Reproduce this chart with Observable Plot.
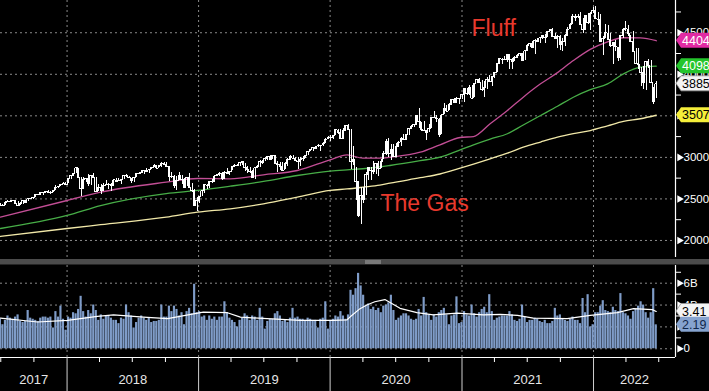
<!DOCTYPE html>
<html><head><meta charset="utf-8">
<script src="https://cdn.jsdelivr.net/npm/d3@7"></script>
<script src="https://cdn.jsdelivr.net/npm/@observablehq/plot@0.6"></script>
<style>
html,body{margin:0;padding:0;background:#000;}
#chart{position:relative;width:709px;height:391px;overflow:hidden;background:#000;}
#top{position:absolute;left:0;top:0;}
#bot{position:absolute;left:0;top:265px;}
</style></head><body><div id="chart"><div id="top"></div><div id="bot"></div></div>
<script>
// ---------- DATA ----------
const firstWeek = "2017-06-30"; // weekly bars, one per Friday
const closes = [
2423,2425,2459,2472,2472,2476,2441,2425,2443,2477,2461,2500,2502,2519,2549,2553,2575,2581,2588,2582,2579,2602,2642,2652,2676,2683,2674,
2743,2786,2810,2873,2762,2620,2732,2747,2691,2786,2752,2588,2641,2604,2656,2670,2670,2663,2728,2712,2721,2735,2779,2780,2755,2718,2760,2801,2802,2819,2840,2833,2850,2875,2902,2872,2905,2930,2914,2886,2767,2768,2658,2723,2781,2736,2633,2760,2633,2600,2417,2486,
2532,2596,2671,2665,2707,2708,2776,2793,2804,2743,2822,2801,2834,2893,2907,2905,2940,2946,2881,2860,2826,2752,2873,2887,2950,2942,2990,3014,2977,3026,2932,2919,2889,2847,2926,2979,3007,2992,2962,2952,2970,2986,3023,3067,3093,3120,3110,3141,3146,3169,3221,3240,
3235,3265,3330,3295,3226,3328,3380,3338,2954,2972,2711,2305,2541,2489,2790,2875,2837,2831,2930,2864,2955,3044,3194,3041,3098,3009,3130,3185,3225,3216,3271,3351,3373,3397,3508,3427,3341,3319,3298,3348,3477,3484,3465,3270,3510,3585,3558,3638,3699,3663,3709,3703,3756,
3825,3768,3841,3714,3887,3934,3907,3811,3842,3943,3913,3975,4020,4129,4185,4180,4181,4233,4174,4156,4204,4230,4247,4166,4281,4352,4370,4327,4412,4395,4437,4468,4442,4509,4535,4459,4433,4455,4357,4391,4471,4545,4605,4697,4683,4698,4595,4538,4712,4620,4726,4766,
4677,4663,4398,4432,4500,4419,4349,4385,4329,4204,4463,4543,4546,4488,4393,4272,4132,4123,4024,3901,4158,4109,3901,3675,3885];
const highs = [
2441,2433,2463,2478,2484,2480,2480,2468,2454,2481,2475,2500,2508,2519,2552,2557,2575,2582,2588,2597,2590,2605,2657,2654,2679,2695,2692,
2743,2787,2811,2873,2870,2763,2754,2747,2789,2786,2802,2753,2675,2672,2680,2717,2683,2682,2732,2742,2742,2736,2779,2791,2775,2746,2760,2802,2816,2848,2841,2863,2855,2876,2916,2900,2906,2941,2940,2940,2888,2817,2780,2766,2815,2782,2746,2761,2800,2686,2608,2520,
2533,2598,2675,2671,2708,2738,2776,2794,2813,2816,2831,2861,2836,2893,2911,2917,2940,2954,2932,2892,2876,2840,2876,2905,2964,2959,2996,3014,3017,3028,3027,2945,2941,2939,2940,2985,3021,3022,3002,2993,2993,3008,3027,3067,3098,3121,3128,3155,3146,3183,3226,3248,
3259,3268,3330,3338,3338,3347,3385,3393,3337,3136,2882,2711,2637,2641,2819,2880,2873,2955,2932,2945,2980,3068,3211,3233,3155,3155,3165,3186,3236,3280,3272,3352,3387,3399,3509,3588,3425,3429,3323,3397,3482,3549,3502,3464,3521,3646,3628,3645,3699,3712,3726,3711,3760,
3826,3823,3860,3871,3887,3937,3950,3928,3914,3961,3983,3975,4021,4130,4191,4195,4218,4238,4236,4186,4218,4234,4250,4256,4286,4356,4372,4394,4415,4430,4442,4468,4481,4513,4545,4549,4486,4465,4466,4429,4475,4559,4608,4718,4714,4717,4744,4672,4713,4731,4740,4808,
4818,4749,4725,4453,4595,4590,4490,4385,4402,4324,4465,4546,4637,4593,4471,4513,4308,4307,4082,4091,4158,4177,4164,3838,3913];
const lows = [
2406,2407,2420,2455,2459,2464,2437,2421,2417,2428,2446,2466,2495,2488,2520,2543,2547,2544,2566,2566,2557,2580,2597,2624,2652,2676,2673,
2683,2737,2768,2808,2759,2533,2608,2701,2647,2659,2747,2585,2594,2553,2586,2660,2612,2594,2655,2701,2707,2676,2731,2755,2742,2691,2698,2760,2795,2800,2795,2826,2802,2851,2876,2864,2874,2878,2904,2874,2710,2749,2628,2603,2719,2670,2631,2649,2621,2583,2409,2346,
2444,2524,2570,2612,2631,2681,2703,2764,2775,2722,2734,2800,2785,2845,2873,2891,2896,2900,2825,2801,2805,2750,2728,2868,2880,2912,2952,2966,2975,2976,2914,2822,2840,2834,2853,2891,2964,2990,2946,2855,2892,2952,2985,3023,3066,3075,3091,3113,3070,3126,3169,3221,
3195,3214,3260,3280,3223,3214,3316,3328,2855,2901,2479,2280,2192,2448,2541,2717,2727,2799,2797,2767,2870,2969,3025,2999,2966,3005,3001,3115,3127,3204,3201,3264,3333,3354,3387,3350,3310,3313,3209,3303,3349,3468,3424,3234,3280,3518,3556,3568,3630,3645,3648,3636,3698,
3663,3750,3750,3694,3725,3884,3884,3789,3723,3815,3905,3853,3949,4020,4118,4118,4165,4142,4057,4062,4155,4185,4218,4165,4164,4276,4320,4322,4234,4385,4368,4422,4367,4443,4513,4458,4428,4306,4288,4279,4329,4460,4537,4595,4630,4672,4585,4495,4532,4600,4531,4734,
4663,4582,4395,4222,4431,4402,4328,4114,4279,4157,4161,4425,4517,4450,4381,4267,4124,4063,3859,3811,3810,4074,3900,3637,3705];
const volumes = [ // billions
2.7,2.2,2.6,3.0,2.8,2.7,2.9,3.1,2.5,2.4,2.5,3.5,2.8,2.7,2.6,2.5,2.8,2.9,2.9,2.8,2.9,1.9,3.4,2.9,3.9,2.7,1.7,
2.9,2.8,3.3,3.2,3.6,4.8,3.4,2.9,3.5,3.2,4.0,3.5,2.6,3.1,2.7,3.0,3.0,2.8,2.6,2.6,2.3,2.8,2.7,4.0,3.3,3.0,1.9,2.4,2.8,3.0,2.8,2.6,2.8,2.4,2.5,2.5,2.6,4.0,2.9,2.9,3.9,3.4,3.9,3.6,3.0,3.3,2.2,3.4,3.7,3.2,5.9,3.3,
3.4,2.9,3.0,2.6,3.0,2.7,2.9,2.6,2.9,2.9,4.3,3.3,2.8,2.6,2.4,2.0,2.6,2.8,3.2,3.0,2.6,3.0,2.9,2.6,3.7,2.9,1.8,2.5,2.7,2.7,3.2,3.4,3.0,2.5,2.6,2.4,2.8,3.7,2.8,2.9,2.7,2.7,2.6,2.8,2.7,2.6,2.6,1.9,2.7,2.8,4.3,1.8,
2.6,2.7,3.0,2.9,3.4,3.0,2.7,3.1,5.35,4.9,5.5,6.9,5.75,4.9,3.9,4.1,3.6,3.8,3.5,3.7,3.3,3.9,4.0,4.2,4.9,3.5,2.6,2.8,3.0,3.2,3.2,3.0,2.7,2.6,2.7,3.6,3.0,4.7,3.3,3.1,2.6,3.1,2.9,3.3,3.5,3.7,3.1,2.2,3.0,3.1,4.75,2.3,2.4,
3.4,3.1,3.0,4.0,3.2,2.9,3.3,3.6,3.8,3.3,4.95,3.4,2.6,2.8,2.9,3.0,3.0,3.0,3.4,3.1,2.6,2.5,2.7,4.0,2.9,2.4,2.6,2.6,2.8,2.7,2.5,2.4,2.6,2.3,2.3,2.5,3.7,3.0,3.1,2.7,2.6,2.5,2.7,2.9,2.6,2.6,2.3,4.6,3.3,4.95,2.0,2.2,
3.3,3.3,3.9,4.4,3.5,3.4,3.3,3.8,3.5,3.4,5.05,3.3,3.2,3.0,2.7,3.4,3.6,3.9,4.3,4.0,3.3,2.8,3.3,5.5,2.19];

// moving averages
const maDates = ["2017-06-30","2018-01-01","2018-04-04","2018-10-03","2018-12-29","2019-03-30","2019-06-30","2019-10-02","2020-01-01","2020-02-17","2020-04-01","2020-05-18","2020-06-15","2020-09-07","2020-11-01","2020-12-27","2021-02-02","2021-03-20","2021-05-07","2021-06-20","2021-08-07","2021-09-23","2021-11-06","2021-12-23","2022-02-09","2022-03-25","2022-05-11","2022-06-24"];
const ma50  = [2280,2481,2581,2701,2746,2742,2790,2842,2971,3031,2990,2990,3002,3062,3151,3239,3251,3404,3564,3725,3885,4020,4165,4300,4390,4440,4438,4404];
const ma100 = [2144,2301,2420,2565,2602,2653,2710,2782,2834,2850,2863,2885,2902,2960,3002,3090,3151,3220,3284,3390,3504,3615,3724,3815,3885,4005,4085,4098];
const ma200 = [2048,2144,2190,2280,2340,2381,2441,2521,2602,2620,2641,2665,2689,2755,2800,2870,2920,2983,3050,3122,3185,3243,3285,3323,3380,3432,3465,3507];
const volMaDates = ["2017-06-30","2017-10-11","2018-01-02","2018-03-26","2018-05-10","2018-08-01","2018-10-07","2018-12-18","2019-01-14","2019-03-22","2019-04-27","2019-07-10","2019-10-10","2020-01-09","2020-02-17","2020-02-25","2020-03-24","2020-04-12","2020-05-04","2020-06-01","2020-07-13","2020-08-29","2020-10-13","2020-12-19","2021-03-01","2021-04-17","2021-06-04","2021-07-18","2021-10-20","2021-12-23","2022-03-08","2022-04-22","2022-06-13","2022-06-24"];
const volMa = [2.8,2.45,2.6,2.97,3.1,2.9,2.75,3.2,3.36,3.3,2.9,2.75,2.6,2.6,2.65,2.9,3.67,4.0,4.3,4.5,3.7,3.3,3.1,3.27,3.1,3.15,3.06,2.8,2.75,3.06,3.3,3.67,3.58,3.41];

// last-value tags
const lastMa50 = 4404, lastMa100 = 4098, lastPrice = 3885, lastMa200 = 3507;
const lastVolMa = 3.41, lastVolume = 2.19;

// axes
const priceTicks = [2000,2500,3000,3500,4000,4500];
const priceMinorTicks = [2250,2750,3250,3750,4250,4750];
const volTicks = [0,2,4,6];
const volTickLabels = ["0","2B","4B","6B"];
const volMinorTicks = [1,3,5,7];
const yearLabels = ["2017","2018","2019","2020","2021","2022"];
const yearStarts = ["2018-01-01","2019-01-01","2020-01-01","2021-01-01","2022-01-01"];
const quarterTicks = ["2017-07-01","2017-10-01","2018-04-01","2018-07-01","2018-10-01","2019-04-01","2019-07-01","2019-10-01","2020-04-01","2020-07-01","2020-10-01","2021-04-01","2021-07-01","2021-10-01","2022-04-01","2022-07-01"];
const annotations = ["Fluff","The Gas"];

// ---------- BUILD ----------
const P = d => new Date(d);
const xDomain = [new Date("2017-06-30T06:00Z"), new Date("2022-08-16T12:00Z")];
const weeks = closes.map((c, i) => ({
  date: d3.utcDay.offset(P(firstWeek), 7 * i), close: c, high: highs[i], low: lows[i], volume: volumes[i]
}));
const maRows = maDates.map((d, i) => ({date: P(d), ma50: ma50[i], ma100: ma100[i], ma200: ma200[i]}));
const volMaRows = volMaDates.map((d, i) => ({date: P(d), v: volMa[i]}));
const yStarts = yearStarts.map(P);
const qTicks = quarterTicks.map(P);
const bounds = [xDomain[0], ...yStarts, xDomain[1]];
const yearMids = yearLabels.map((_, i) => new Date((+bounds[i] + +bounds[i + 1]) / 2));

const FONT = "Liberation Sans, Arial, Helvetica, sans-serif";
const GRID = {stroke: "#8a8a8a", strokeDasharray: "2,3", strokeWidth: 1};
const RIGHT = xDomain[1];

const topPlot = Plot.plot({
  width: 709, height: 265,
  marginLeft: 0, marginRight: 34, marginTop: 0, marginBottom: 8,
  style: {background: "#000", color: "#fff", fontFamily: FONT, fontSize: "12px", overflow: "visible"},
  x: {type: "utc", domain: xDomain, axis: null},
  y: {domain: [1795, 4888], axis: null},
  marks: [
    Plot.ruleY(priceTicks, GRID),
    Plot.ruleX(yStarts, GRID),
    Plot.line(maRows, {x: "date", y: "ma200", stroke: "#f1e8a8", strokeWidth: 1.3, curve: "monotone-x"}),
    Plot.line(maRows, {x: "date", y: "ma100", stroke: "#47ad47", strokeWidth: 1.3, curve: "monotone-x"}),
    Plot.line(maRows, {x: "date", y: "ma50", stroke: "#c24e95", strokeWidth: 1.3, curve: "monotone-x"}),
    Plot.ruleX(weeks, {x: "date", y1: "low", y2: "high", stroke: "#fff", strokeWidth: 1, shapeRendering: "crispEdges"}),
    Plot.line(weeks, {x: "date", y: "close", curve: "step", stroke: "#fff", strokeWidth: 1, shapeRendering: "crispEdges"}),
    Plot.text([annotations[0]], {frameAnchor: "top-left", dx: 471, dy: 35, lineAnchor: "bottom", textAnchor: "start", fontSize: 23, fill: "#e8392d", fontFamily: FONT}),
    Plot.text([annotations[1]], {frameAnchor: "top-left", dx: 380, dy: 210, lineAnchor: "bottom", textAnchor: "start", fontSize: 23, fill: "#e8392d", fontFamily: FONT}),
    Plot.ruleX([RIGHT], {stroke: "#fff", strokeWidth: 1.2}),
    Plot.axisY({anchor: "right", ticks: priceMinorTicks, tickSize: 5, tickFormat: () => "", stroke: "#fff"}),
    Plot.axisY({anchor: "right", ticks: priceTicks, tickSize: 0, tickPadding: 8, tickFormat: d => String(d), fill: "#fff", fontSize: 11.5}),
    Plot.dot(priceTicks, {x: () => RIGHT, y: d => d, symbol: "triangle", rotate: 90, r: 2.8, fill: "#fff", stroke: null, dx: 4})
  ]
});

const botPlot = Plot.plot({
  width: 709, height: 126,
  marginLeft: 0, marginRight: 34, marginTop: 0, marginBottom: 34,
  style: {background: "#000", color: "#fff", fontFamily: FONT, fontSize: "12px", overflow: "visible"},
  x: {type: "utc", domain: xDomain, axis: null},
  y: {domain: [-0.8, 7.62], axis: null},
  marks: [
    Plot.ruleY(volTicks, GRID),
    Plot.ruleX(yStarts, GRID),
    Plot.rectY(weeks, {x1: d => new Date(+d.date - 3 * 864e5), x2: d => new Date(+d.date + 3 * 864e5), y1: 0, y2: "volume", fill: "#7f9cc8"}),
    Plot.line(volMaRows, {x: "date", y: "v", stroke: "#fff", strokeWidth: 1.2}),
    Plot.ruleX([RIGHT], {stroke: "#fff", strokeWidth: 1.2}),
    Plot.ruleY([-0.8], {stroke: "#fff", strokeWidth: 1.2}),
    Plot.axisY({anchor: "right", ticks: volMinorTicks, tickSize: 5, tickFormat: () => "", stroke: "#fff"}),
    Plot.axisY({anchor: "right", ticks: volTicks, tickSize: 0, tickPadding: 8, tickFormat: d => volTickLabels[volTicks.indexOf(d)], fill: "#fff", fontSize: 11.5}),
    Plot.dot(volTicks, {x: () => RIGHT, y: d => d, symbol: "triangle", rotate: 90, r: 2.8, fill: "#fff", stroke: null, dx: 4}),
    Plot.axisX({ticks: yStarts, tickSize: 34, tickFormat: () => "", stroke: "#d0d0d0"}),
    Plot.axisX({ticks: qTicks, tickSize: 5, tickFormat: () => "", stroke: "#fff"}),
    Plot.text(yearLabels, {x: (d, i) => yearMids[i], frameAnchor: "bottom", dy: 26, fontSize: 13, fill: "#e6e6e6", fontFamily: FONT})
  ]
});

document.getElementById("top").appendChild(topPlot);
document.getElementById("bot").appendChild(botPlot);

// separator bar between panels
const ts = d3.select(topPlot);
ts.append("rect").attr("x", 0).attr("y", 259).attr("width", 709).attr("height", 5.5).attr("fill", "#4b4b4b");
ts.append("line").attr("x1", 365).attr("x2", 381).attr("y1", 261).attr("y2", 261).attr("stroke", "#a8a8a8");
ts.append("line").attr("x1", 365).attr("x2", 381).attr("y1", 263).attr("y2", 263).attr("stroke", "#a8a8a8");

// last-value tags on the right axis
function tag(svg, y, label, fill, textFill, outline) {
  const h = 15, x0 = 676, x1 = 681;
  const g = d3.select(svg).append("g");
  g.append("path")
    .attr("d", `M${x0},${y} L${x1},${y - h / 2} L710,${y - h / 2} L710,${y + h / 2} L${x1},${y + h / 2} Z`)
    .attr("fill", fill).attr("stroke", outline || "none").attr("stroke-width", 0.8);
  g.append("text").attr("x", 682).attr("y", y).attr("dy", "0.36em").attr("text-anchor", "start")
    .attr("fill", textFill).attr("font-size", 12.5).attr("font-family", FONT).text(label);
}
const yT = topPlot.scale("y"), yB = botPlot.scale("y");
tag(topPlot, yT.apply(lastMa200), String(lastMa200), "#f5ee3a", "#000");
tag(topPlot, yT.apply(lastPrice), String(lastPrice), "#f4f4f4", "#000", "#999");
tag(topPlot, yT.apply(lastMa100), String(lastMa100), "#24c52c", "#fff");
tag(topPlot, yT.apply(lastMa50), String(lastMa50), "#e12aa3", "#fff");
tag(botPlot, yB.apply(lastVolMa), lastVolMa.toFixed(2), "#f4f4f4", "#000", "#999");
tag(botPlot, yB.apply(lastVolume), lastVolume.toFixed(2), "#86a3cf", "#10264a");
</script></body></html>
